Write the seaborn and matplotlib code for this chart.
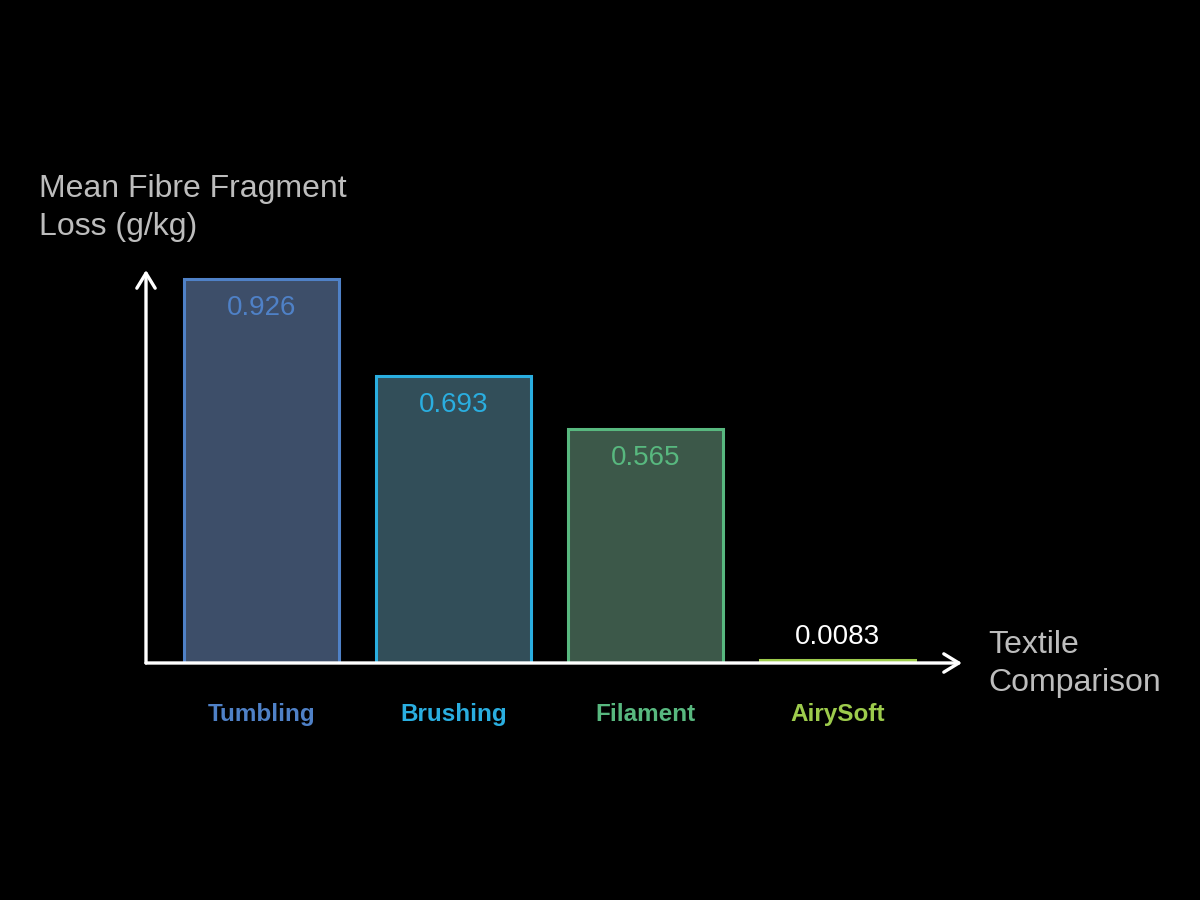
import matplotlib
matplotlib.use("Agg")
import matplotlib.pyplot as plt
import matplotlib.transforms as mtransforms
import seaborn as sns
import pandas as pd

categories = ["Tumbling", "Brushing", "Filament", "AirySoft"]
values = [0.926, 0.693, 0.565, 0.0083]
value_labels = ["0.926", "0.693", "0.565", "0.0083"]
edge_colors = ["#4f81c7", "#2aaee0", "#58b87f", "#9dcb4c"]
fill_colors = ["#3d4e69", "#324e59", "#3c5849", "#9dcb4c"]

sns.set_theme(style="dark")
plt.rcParams["font.family"] = ["Liberation Sans", "DejaVu Sans"]

df = pd.DataFrame({"method": categories, "loss": values})

fig = plt.figure(figsize=(12, 9), dpi=100, facecolor="black")
# axes box in figure pixels: x 146..962, y 270..663 (from top)
ax = fig.add_axes([146 / 1200, 1 - 663 / 900, (962 - 146) / 1200, (663 - 270) / 900])
ax.set_facecolor("black")

sns.barplot(data=df, x="method", y="loss", hue="method", palette=fill_colors,
            width=0.807, legend=False, ax=ax, saturation=1)
for patch, ec in zip(ax.patches, edge_colors):
    patch.set_edgecolor(ec)
    patch.set_linewidth(2.2)

ax.set_xlim(-0.6016, 3.648)
ax.set_ylim(0, (663 - 270) / 414.7)

for spine in ax.spines.values():
    spine.set_visible(False)
ax.set_yticks([])
ax.set_xticks([])
ax.set_xlabel("")
ax.set_ylabel("")
ax.grid(False)

# axes arrows
arrow = dict(arrowstyle="->,head_length=0.9,head_width=0.55", color="white", lw=2.4,
             shrinkA=0, shrinkB=0)
ax.annotate("", xy=(0, 1.0), xytext=(0, 0), xycoords="axes fraction",
            arrowprops=arrow, annotation_clip=False)
ax.annotate("", xy=(1.0, 0), xytext=(0, 0), xycoords="axes fraction",
            arrowprops=arrow, annotation_clip=False)

# value labels
for i, (v, lab, ec) in enumerate(zip(values, value_labels, edge_colors)):
    if v > 0.1:
        ax.annotate(lab, xy=(i, v), xytext=(0, -21), textcoords="offset points",
                    ha="center", va="center", fontsize=20, color=ec)
    else:
        ax.annotate(lab, xy=(i, v), xytext=(0, 16), textcoords="offset points",
                    ha="center", va="center", fontsize=20, color="white")

# category labels, aligned on a common baseline below the axis
trans = mtransforms.blended_transform_factory(ax.transData, ax.transAxes)
for i, (cat, ec) in enumerate(zip(categories, edge_colors)):
    ax.text(i, -58 / 393, cat, transform=trans, ha="center", va="baseline",
            fontsize=17.5, fontweight="bold", color=ec)

fig.text(39 / 1200, 1 - 174 / 900, "Mean Fibre Fragment\nLoss (g/kg)", ha="left", va="top",
         fontsize=23, color="#bdbdbd", linespacing=1.35)
fig.text(988 / 1200, 1 - 630 / 900, "Textile\nComparison", ha="left", va="top",
         fontsize=23, color="#bdbdbd", linespacing=1.35)

fig.savefig("out.png", dpi=100, facecolor="black")
